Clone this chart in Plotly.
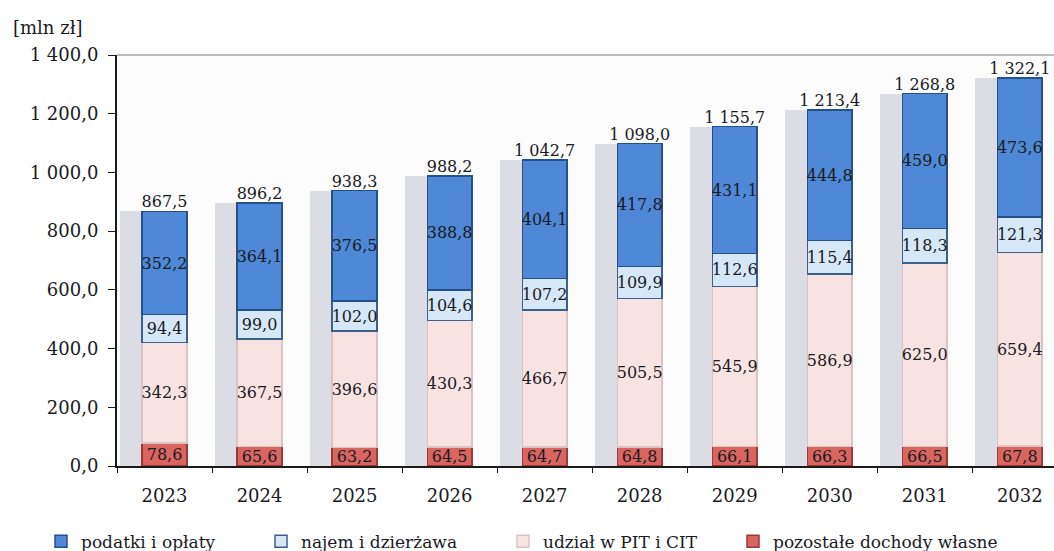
import plotly.graph_objects as go

years = ["2023", "2024", "2025", "2026", "2027", "2028", "2029", "2030", "2031", "2032"]
pozostale = [78.6, 65.6, 63.2, 64.5, 64.7, 64.8, 66.1, 66.3, 66.5, 67.8]
udzial = [342.3, 367.5, 396.6, 430.3, 466.7, 505.5, 545.9, 586.9, 625.0, 659.4]
najem = [94.4, 99.0, 102.0, 104.6, 107.2, 109.9, 112.6, 115.4, 118.3, 121.3]
podatki = [352.2, 364.1, 376.5, 388.8, 404.1, 417.8, 431.1, 444.8, 459.0, 473.6]
totals = [867.5, 896.2, 938.3, 988.2, 1042.7, 1098.0, 1155.7, 1213.4, 1268.8, 1322.1]

FONT = "DejaVu Serif"
TXT = "#1a1a24"
# (name, values, fill, outline, legend id, legend x in px)
series = [
    ("pozostałe dochody własne", pozostale, "#d9655f", "#9c3a3a", "legend4", 733),
    ("udział w PIT i CIT", udzial, "#f8e3e3", "#dcc3c3", "legend3", 503),
    ("najem i dzierżawa", najem, "#d6e8f8", "#3e5f8a", "legend2", 261),
    ("podatki i opłaty", podatki, "#4f88d6", "#24508c", "legend", 41),
]

fig = go.Figure()

# soft shadow behind each bar
fig.add_trace(go.Bar(
    x=years, y=totals, xaxis="x", yaxis="y",
    width=0.25, offset=-0.47,
    marker=dict(color="#dcdde4", line=dict(width=0)),
    showlegend=False, hoverinfo="skip",
))

legend_layout = {}
for name, vals, col, lcol, leg, lx in series:
    fig.add_trace(go.Bar(
        x=years, y=vals, name=name, xaxis="x", yaxis="y2", legend=leg,
        marker=dict(color=col, line=dict(color=lcol, width=1.5)),
        text=vals, texttemplate="%{y:,.1f}", textposition="inside",
        insidetextanchor="middle", textangle=0,
        textfont=dict(family=FONT, size=16, color=TXT),
        constraintext="none",
    ))
    legend_layout[leg] = dict(
        orientation="h", xref="container", yref="container",
        x=lx / 1054, xanchor="left", y=0.017, yanchor="middle",
        font=dict(family=FONT, size=17, color=TXT),
        itemwidth=30, bgcolor="rgba(0,0,0,0)",
    )

fig.add_trace(go.Scatter(
    x=years, y=totals, mode="text", text=totals, xaxis="x", yaxis="y2",
    texttemplate="%{y:,.1f}", textposition="top center",
    textfont=dict(family=FONT, size=16, color=TXT),
    showlegend=False, hoverinfo="skip", cliponaxis=False,
))

fig.update_layout(
    barmode="stack",
    bargap=0.53,
    width=1054, height=551,
    margin=dict(l=117, r=0, t=55, b=85),
    paper_bgcolor="white",
    plot_bgcolor="#fcfcfc",
    separators=", ",
    font=dict(family=FONT, size=18, color=TXT),
    showlegend=True,
    annotations=[dict(
        text="[mln zł]", xref="paper", yref="paper", x=-0.113, y=1.068,
        xanchor="left", yanchor="middle", showarrow=False,
        font=dict(family=FONT, size=18, color=TXT),
    )],
    shapes=[dict(type="line", xref="paper", yref="paper", x0=0, x1=1, y0=1, y1=1,
                 line=dict(color="#a8a8a8", width=1.5))],
    yaxis2=dict(range=[0, 1400], overlaying="y", visible=False),
    **legend_layout,
)

fig.layout.yaxis.update(
    range=[0, 1400], dtick=200, tickformat=",.1f",
    showline=True, linecolor="#1a1a1a", linewidth=2,
    ticks="outside", ticklen=7, tickcolor="#1a1a1a",
    showgrid=False, zeroline=False, ticklabelstandoff=6,
    tickfont=dict(family=FONT, size=18),
)
fig.layout.xaxis.update(
    range=[-0.5, 9.36],
    showline=True, linecolor="#1a1a1a", linewidth=1.5,
    ticks="outside", ticklen=5, tickcolor="#1a1a1a", tickson="boundaries",
    showgrid=False, ticklabelstandoff=13,
    tickfont=dict(family=FONT, size=18),
)

fig.write_html(
    "out.html",
    config={"displayModeBar": False},
    post_script="document.body.style.margin='0';document.body.style.overflow='hidden';",
)
